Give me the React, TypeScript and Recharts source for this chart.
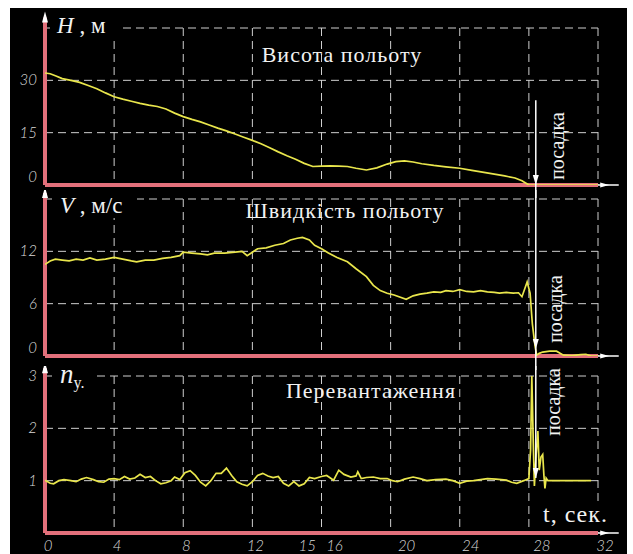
import React from 'react';
import { LineChart, Line, XAxis, YAxis, CartesianGrid, ReferenceLine, ReferenceDot } from 'recharts';

// ---------- data ----------
const timeTicks = [0, 4, 8, 12, 15, 16, 20, 24, 28, 32];
const gridTimes = [4, 8, 12, 16, 20, 24, 28, 32];

const heightTicks = [0, 15, 30];
const heightGrid = [15, 30, 45];
const speedTicks = [0, 6, 12];
const speedGrid = [6, 12, 18];
const loadTicks = [1, 2, 3];
const loadGrid = [1, 2, 3];

const landingTime = 28.4;

const heightTime = [0, 0.3, 0.6, 1.0, 1.5, 2.0, 2.5, 3.0, 3.5, 4.0, 4.5, 5.0, 5.5, 6.0, 6.5, 7.0, 7.5, 8.0, 8.5, 9.0,
  9.5, 10.0, 10.5, 11.0, 11.5, 12.0, 12.5, 13.0, 13.5, 14.0, 14.5, 15.0, 15.5, 16.0, 16.5, 17.0, 17.5, 18.0, 18.6, 19.2,
  19.8, 20.3, 20.8, 21.3, 21.8, 22.5, 23.2, 24.0, 24.7, 25.4, 26.0, 26.6, 27.2, 27.6, 28.0, 32];
const heightValues = [32.1, 31.9, 31.3, 30.5, 30.0, 29.4, 28.5, 27.6, 26.4, 25.3, 24.6, 24.0, 23.4, 22.9, 22.5, 21.8, 20.6, 19.6, 18.8, 18.1,
  17.2, 16.3, 15.5, 14.6, 13.7, 12.8, 11.8, 10.7, 9.5, 8.4, 7.4, 6.2, 5.3, 5.4, 5.5, 5.4, 5.3, 4.8, 4.3, 4.9,
  6.0, 6.7, 6.9, 6.6, 6.1, 5.6, 5.2, 4.8, 4.2, 3.6, 3.1, 2.6, 2.0, 1.2, 0, 0];

const speedTime = [0, 0.3, 0.6, 1.0, 1.4, 1.8, 2.2, 2.6, 3.0, 3.5, 4.0, 4.5, 5.0, 5.3, 5.8, 6.3, 6.8, 7.3, 7.8, 8.0,
  8.5, 9.0, 9.4, 9.8, 10.4, 11.0, 11.4, 11.7, 12.0, 12.3, 12.8, 13.3, 13.8, 14.2, 14.6, 14.9, 15.3, 15.6, 16.0, 16.4,
  16.9, 17.5, 18.0, 18.6, 19.0, 19.4, 19.8, 20.2, 20.9, 21.3, 21.7, 22.1, 22.5, 22.9, 23.2, 23.6, 24.0, 24.4, 24.8, 25.2,
  25.6, 26.0, 26.3, 26.7, 27.1, 27.4, 27.6, 27.9, 28.07, 28.2, 28.36, 28.45, 28.6, 28.8, 29.2, 29.6, 30.0, 30.5, 31.0, 31.3,
  31.6, 32];
const speedValues = [10.5, 10.9, 11.1, 11.0, 10.9, 11.1, 11.0, 11.25, 11.0, 11.1, 11.3, 11.1, 10.9, 10.8, 11.0, 11.0, 11.2, 11.3, 11.5, 11.9,
  11.8, 11.7, 11.6, 11.8, 11.8, 11.9, 12.0, 11.5, 11.9, 12.3, 12.4, 12.7, 12.9, 13.3, 13.5, 13.6, 13.3, 12.7, 12.3, 11.8,
  11.3, 10.8, 10.0, 9.1, 8.1, 7.5, 7.2, 7.0, 6.5, 6.9, 7.1, 7.2, 7.35, 7.3, 7.5, 7.4, 7.6, 7.4, 7.35, 7.5,
  7.35, 7.3, 7.2, 7.3, 7.2, 7.25, 6.8, 8.5, 7.2, 3.7, 1.1, 0.1, 0.3, 0.45, 0.55, 0.55, 0.1, 0.05, 0.15, 0.2,
  0.0, 0];

const loadTime = [0, 0.3, 0.5, 0.8, 1.1, 1.5, 1.8, 2.1, 2.4, 2.8, 3.1, 3.4, 3.7, 4.0, 4.3, 4.6, 4.9, 5.2, 5.5, 5.8,
  6.1, 6.4, 6.7, 7.0, 7.3, 7.5, 7.8, 8.1, 8.4, 8.7, 9.0, 9.3, 9.6, 9.9, 10.2, 10.5, 10.8, 11.1, 11.4, 11.7,
  12.0, 12.3, 12.6, 12.9, 13.2, 13.5, 13.8, 14.1, 14.4, 14.7, 15.0, 15.3, 15.6, 16.0, 16.3, 16.7, 17.0, 17.3, 17.7, 18.0,
  18.1, 18.3, 18.6, 19.0, 19.4, 19.8, 20.1, 20.4, 20.8, 21.3, 21.7, 22.1, 22.6, 23.2, 23.6, 24.0, 24.4, 24.8, 25.2, 25.6,
  26.1, 26.7, 27.0, 27.3, 27.7, 28.0, 28.1, 28.17, 28.25, 28.32, 28.42, 28.52, 28.6, 28.7, 28.8, 28.87, 28.93, 29.0, 29.1, 31.6];
const loadValues = [1.01, 0.95, 0.94, 1.0, 1.02, 1.0, 0.98, 1.03, 1.06, 1.02, 0.98, 0.97, 1.03, 1.04, 1.02, 1.08, 1.03, 1.05, 1.12, 1.06,
  1.08, 1.0, 0.94, 0.96, 1.0, 1.07, 1.02, 1.15, 1.19, 1.1, 0.97, 0.9, 1.0, 1.14, 1.14, 1.24, 1.1, 0.98, 0.93, 0.9,
  0.98, 1.1, 1.14, 1.09, 1.06, 1.08, 0.95, 0.9, 0.98, 0.9, 0.94, 1.06, 1.04, 1.08, 1.1, 1.01, 1.2, 1.12, 1.07, 1.09,
  1.17, 1.04, 1.06, 1.07, 1.04, 1.04, 1.0, 0.98, 1.03, 1.07, 1.04, 1.0, 1.02, 1.03, 1.0, 0.95, 0.99, 1.0, 1.02, 1.04,
  1.03, 1.01, 0.97, 0.95, 1.0, 1.04, 1.6, 3.0, 1.8, 0.9, 1.5, 1.95, 1.2, 1.45, 1.5, 1.1, 0.85, 1.05, 1.0, 1.0];

const heightData = heightTime.map((t, i) => ({ t, v: heightValues[i] }));
const speedData = speedTime.map((t, i) => ({ t, v: speedValues[i] }));
const loadData = loadTime.map((t, i) => ({ t, v: loadValues[i] }));

// ---------- style ----------
const W = 617;
const RED = '#e2707b';
const YELLOW = '#e9e64c';
const GRID = '#cfcfcf';
const WHITE = '#f2f2f2';
const TICK_FONT = 'Lato, "Open Sans", sans-serif';
const SERIF = '"Liberation Serif", "DejaVu Serif", serif';

const xLabelShift: Record<number, number> = { 16: 10, 20: 13, 24: 8, 28: 10, 32: 4 };

const YTick = (props: any) => {
  const { x, y, payload } = props;
  const v = payload.value;
  const dy = v === 0 ? -3 : 5;
  return (
    <text x={x} y={y + dy} textAnchor="end" fill="#d9d9d9" style={{ fontFamily: TICK_FONT, fontStyle: 'italic', fontWeight: 300 }}
      fontSize={15}>{v}</text>
  );
};

const XTick = (props: any) => {
  const { x, y, payload } = props;
  const v = payload.value;
  return (
    <text x={x + 3 + (xLabelShift[v] || 0)} y={y + 10} textAnchor="middle" fill="#d9d9d9"
      style={{ fontFamily: TICK_FONT, fontStyle: 'italic', fontWeight: 300 }} fontSize={15}>{v}</text>
  );
};

const upArrow = (p: any) => (
  <polygon points={`${p.cx},${p.cy - 6} ${p.cx - 3},${p.cy + 5} ${p.cx + 3},${p.cy + 5}`} fill="#ffffff" />
);
const downArrow = (p: any) => (
  <polygon points={`${p.cx},${p.cy} ${p.cx - 3},${p.cy - 10} ${p.cx + 3},${p.cy - 10}`} fill="#ffffff" />
);
const rightArrow = (p: any) => (
  <polygon points={`${p.cx + 6},${p.cy} ${p.cx - 3},${p.cy - 2.5} ${p.cx - 3},${p.cy + 2.5}`} fill="#ffffff" />
);

type PanelProps = {
  top: number;
  height: number;
  margin: { top: number; right: number; bottom: number; left: number };
  data: { t: number; v: number }[];
  yDomain: [number, number];
  yTicks: number[];
  gridY: number[];
  axisTop: number;
  landingFrom: number;
  landingTo: number;
  arrowTip: number;
  showX?: boolean;
};

function Panel(p: PanelProps) {
  return (
    <div style={{ position: 'absolute', left: 0, top: p.top }}>
      <LineChart width={W} height={p.height} data={p.data} margin={p.margin}>
        <CartesianGrid stroke={GRID} strokeDasharray="8 5" strokeWidth={1}
          verticalValues={gridTimes} horizontalValues={p.gridY} />
        <XAxis type="number" dataKey="t" domain={[0, 32]} ticks={p.showX ? timeTicks : gridTimes}
          hide={!p.showX} height={p.showX ? 21 : 0} axisLine={false} tickLine={false}
          tick={<XTick />} interval={0} allowDataOverflow />
        <YAxis type="number" domain={p.yDomain} ticks={p.yTicks} width={35} axisLine={false}
          tickLine={false} tick={<YTick />} interval={0} allowDataOverflow />
        <ReferenceLine segment={[{ x: 0, y: 0 }, { x: 0, y: p.axisTop }]} stroke={RED} strokeWidth={4}
          ifOverflow="visible" />
        <ReferenceLine segment={[{ x: 0, y: 0 }, { x: 32, y: 0 }]} stroke={RED} strokeWidth={4}
          ifOverflow="visible" />
        <ReferenceLine segment={[{ x: 32, y: 0 }, { x: 33.2, y: 0 }]} stroke="#ffffff" strokeWidth={1.5}
          ifOverflow="visible" />
        <ReferenceDot x={32.3} y={0} ifOverflow="visible" shape={rightArrow} />
        <ReferenceDot x={0} y={p.axisTop} ifOverflow="visible" shape={upArrow} />
        <Line type="linear" dataKey="v" stroke={YELLOW} strokeWidth={1.7} dot={false}
          isAnimationActive={false} />
        <ReferenceLine segment={[{ x: landingTime, y: p.landingFrom }, { x: landingTime, y: p.landingTo }]}
          stroke="#ffffff" strokeWidth={1.5} ifOverflow="visible" />
        <ReferenceDot x={landingTime} y={p.arrowTip} ifOverflow="visible" shape={downArrow} />
      </LineChart>
    </div>
  );
}

const serifStyle = { fontFamily: SERIF };

export default function App() {
  return (
    <div style={{ position: 'absolute', left: 10, top: 8, width: W, height: 546, background: '#000' }}>
      <Panel top={0} height={190} margin={{ top: 20, right: 29, bottom: 13, left: 0 }} data={heightData}
        yDomain={[0, 45]} yTicks={heightTicks} gridY={heightGrid} axisTop={48}
        landingFrom={24.3} landingTo={-3.7} arrowTip={0} />
      <Panel top={182} height={188} margin={{ top: 9, right: 29, bottom: 22, left: 0 }} data={speedData}
        yDomain={[0, 18]} yTicks={speedTicks} gridY={speedGrid} axisTop={18.7}
        landingFrom={19.1} landingTo={-1.6} arrowTip={0.8} />
      <Panel top={358} height={188} margin={{ top: 10, right: 29, bottom: 0, left: 0 }} data={loadData}
        yDomain={[0, 3]} yTicks={loadTicks} gridY={loadGrid} axisTop={3.15}
        landingFrom={3.2} landingTo={1.05} arrowTip={1.05} showX />
      <svg width={W} height={546} style={{ position: 'absolute', left: 0, top: 0, pointerEvents: 'none' }}>
        <rect x={40} y={7} width={68} height={24} fill="#000" />
        <text x={47} y={25} fill={WHITE} style={serifStyle} fontSize={23}>
          <tspan fontStyle="italic">H</tspan><tspan> , м</tspan>
        </text>
        <rect x={42} y={184} width={85} height={26} fill="#000" />
        <text x={50} y={205} fill={WHITE} style={serifStyle} fontSize={23}>
          <tspan fontStyle="italic">V</tspan><tspan> , м/с</tspan>
        </text>
        <rect x={42} y={358} width={44} height={26} fill="#000" />
        <text x={50} y={375} fill={WHITE} style={serifStyle} fontSize={27}>
          <tspan fontStyle="italic">n</tspan><tspan fontSize={16} dy={5}>y.</tspan>
        </text>
        <text x={332} y={54} textAnchor="middle" fill={WHITE} style={serifStyle} fontSize={22} letterSpacing={1}>
          Висота польоту
        </text>
        <text x={335} y={210} textAnchor="middle" fill={WHITE} style={serifStyle} fontSize={22} letterSpacing={1}>
          Швидкість польоту
        </text>
        <text x={361} y={390} textAnchor="middle" fill={WHITE} style={serifStyle} fontSize={22} letterSpacing={1}>
          Перевантаження
        </text>
        <text transform="translate(554,138) rotate(-90)" textAnchor="middle" fill={WHITE} style={serifStyle}
          fontSize={20}>посадка</text>
        <text transform="translate(552,301) rotate(-90)" textAnchor="middle" fill={WHITE} style={serifStyle}
          fontSize={20}>посадка</text>
        <text transform="translate(550,394) rotate(-90)" textAnchor="middle" fill={WHITE} style={serifStyle}
          fontSize={20}>посадка</text>
        <rect x={530} y={496} width={76} height={24} fill="#000" />
        <text x={533} y={514} fill={WHITE} style={serifStyle} fontSize={24} letterSpacing={1}>t, сек.</text>
      </svg>
    </div>
  );
}
